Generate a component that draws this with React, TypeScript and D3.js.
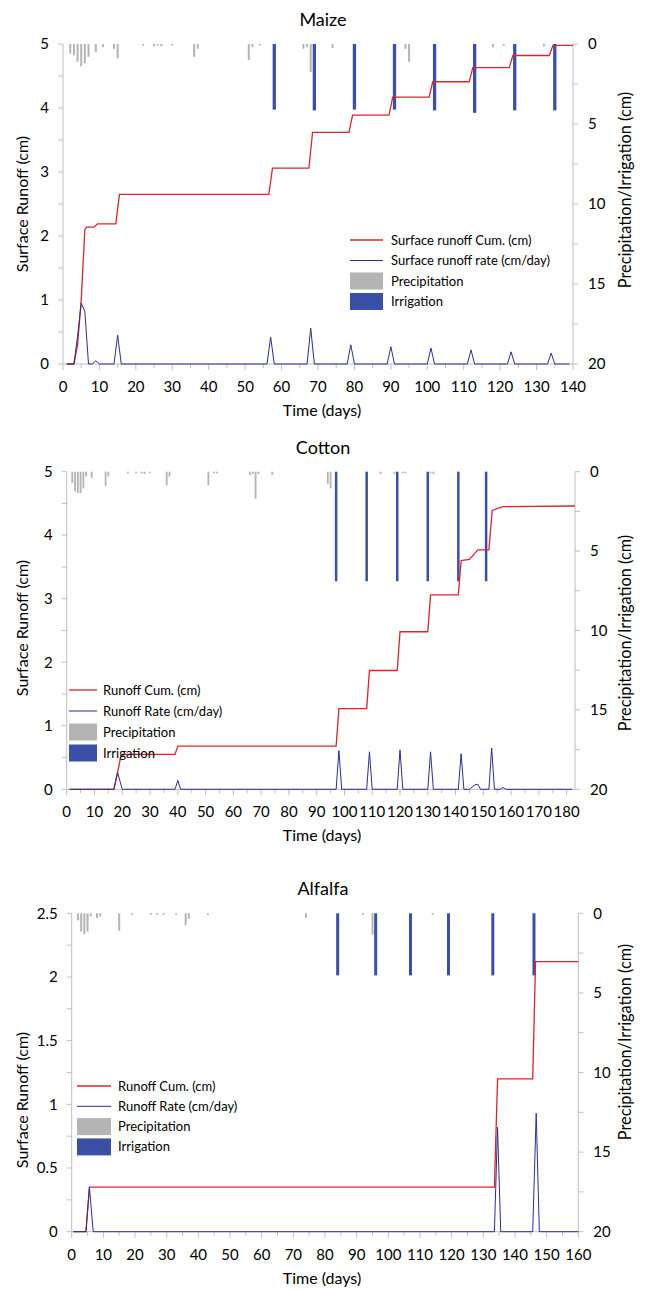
import React from 'react';
import * as d3 from 'd3';

// ---------- Maize ----------
const maizePrecip: [number, number][] = [
  [2, 0.6], [3, 0.7], [4, 1.1], [5, 1.4], [6, 1.2], [7, 0.8], [9, 0.5], [11, 0.2], [14, 0.3], [15, 0.9],
  [22, 0.1], [25, 0.15], [26, 0.1], [27, 0.15], [30, 0.1], [36, 0.8], [37, 0.3], [51, 1.0], [52, 0.2],
  [54, 0.1], [66, 0.3], [67, 0.2], [68, 1.75], [74, 0.25], [94, 0.3], [95, 1.1], [113, 0.1],
  [118, 0.2], [121, 0.1], [132, 0.15],
];
const maizeIrrigation: [number, number][] = [
  [58, 4.1], [69, 4.15], [80, 4.1], [91, 4.1], [102, 4.15], [113, 4.3], [124, 4.15], [135, 4.15],
];
const maizeRate: [number, number][] = [
  [1, 0], [3, 0], [4, 0.43], [5, 0.95], [6, 0.82], [7, 0], [8, 0], [9, 0.05], [10, 0], [14, 0],
  [15, 0.45], [16, 0], [56, 0], [57, 0.42], [58, 0], [67, 0], [68, 0.56], [69, 0], [78, 0],
  [79, 0.3], [80, 0], [89, 0], [90, 0.27], [91, 0], [100, 0], [101, 0.25], [102, 0], [111, 0],
  [112, 0.22], [113, 0], [122, 0], [123, 0.19], [124, 0], [133, 0], [134, 0.17], [135, 0], [139, 0],
];
const maizeCum: [number, number][] = [
  [1, 0], [3, 0], [4, 0.3], [5, 1.0], [6, 2.1], [6.5, 2.14], [8.5, 2.14], [9.5, 2.19], [14.5, 2.19],
  [15.5, 2.65], [56.5, 2.65], [57.5, 3.06], [67.5, 3.06], [68.5, 3.62], [78.5, 3.62], [79.5, 3.89],
  [89.5, 3.89], [90.5, 4.17], [100.5, 4.17], [101.5, 4.41], [111.5, 4.41], [112.5, 4.63],
  [122.5, 4.63], [123.5, 4.82], [133.5, 4.82], [134.5, 4.98], [140, 4.98],
];
const maizeXTicks = [0, 10, 20, 30, 40, 50, 60, 70, 80, 90, 100, 110, 120, 130, 140];
const maizeYTicks = [0, 1, 2, 3, 4, 5];

// ---------- Cotton ----------
const cottonPrecip: [number, number][] = [
  [2, 0.7], [3, 1.25], [4, 1.35], [5, 1.35], [6, 1.05], [7, 0.3], [9, 0.4], [14, 0.9], [15, 0.3],
  [22, 0.1], [25, 0.1], [27, 0.1], [28, 0.15], [30, 0.1], [36, 0.85], [37, 0.3], [51, 0.85],
  [53, 0.1], [54, 0.1], [66, 0.2], [67, 0.15], [68, 1.7], [69, 0.15], [74, 0.2], [94, 0.75],
  [95, 1.05], [113, 0.15], [118, 0.15], [121, 0.1], [122, 0.1], [131, 0.1], [132, 0.15],
];
const cottonIrrigation: [number, number][] = [
  [97, 6.9], [108, 6.9], [119, 6.9], [130, 6.9], [141, 6.9], [151, 6.9],
];
const cottonRate: [number, number][] = [
  [1, 0], [17, 0], [18.3, 0.27], [20, 0], [39, 0], [40, 0.14], [41, 0], [97, 0], [98, 0.61], [99, 0],
  [108, 0], [109, 0.59], [110, 0], [119, 0], [120, 0.62], [121, 0], [130, 0], [131, 0.59], [132, 0],
  [141, 0], [142, 0.56], [143, 0], [145, 0], [147, 0.07], [148, 0.08], [149, 0], [152, 0],
  [153, 0.65], [154, 0], [156, 0], [157, 0.03], [158, 0], [182, 0],
];
const cottonCum: [number, number][] = [
  [1, 0], [17, 0], [18, 0.2], [19.5, 0.52], [21, 0.55], [39, 0.55], [40, 0.68], [97, 0.68],
  [98, 1.27], [108, 1.27], [109, 1.87], [119, 1.87], [120, 2.48], [130, 2.48], [131, 3.06],
  [141, 3.06], [142, 3.6], [145, 3.62], [148, 3.77], [152, 3.77], [153.2, 4.39], [157, 4.45],
  [183, 4.46],
];
const cottonXTicks = [0, 10, 20, 30, 40, 50, 60, 70, 80, 90, 100, 110, 120, 130, 140, 150, 160, 170, 180];
const cottonYTicks = [0, 1, 2, 3, 4, 5];

// ---------- Alfalfa ----------
const alfalfaPrecip: [number, number][] = [
  [2, 0.45], [3, 1.15], [4, 1.3], [5, 1.15], [6, 0.2], [8, 0.3], [9, 0.2], [15, 1.1], [19, 0.1],
  [25, 0.1], [27, 0.1], [29, 0.1], [33, 0.1], [36, 0.75], [37, 0.35], [43, 0.1], [74, 0.28],
  [92, 0.1], [95, 1.35], [114, 0.1], [133, 0.1],
];
const alfalfaIrrigation: [number, number][] = [
  [84, 3.9], [96, 3.9], [107, 3.9], [119, 3.9], [133, 3.9], [146, 3.9],
];
const alfalfaRate: [number, number][] = [
  [0.5, 0], [4.5, 0], [5.6, 0.35], [6.8, 0], [133.5, 0], [134.5, 0.82], [135.5, 0],
  [145.6, 0], [146.7, 0.93], [147.7, 0], [160, 0],
];
const alfalfaCum: [number, number][] = [
  [0.5, 0], [4.5, 0], [5.6, 0.35], [133.5, 0.35], [134.5, 1.2], [145.6, 1.2], [146.5, 2.12], [160, 2.12],
];
const alfalfaXTicks = [0, 10, 20, 30, 40, 50, 60, 70, 80, 90, 100, 110, 120, 130, 140, 150, 160];
const alfalfaYTicks = [0, 0.5, 1, 1.5, 2, 2.5];

const rightTicks = [0, 5, 10, 15, 20];

const FONT = 'Lato, "Open Sans", sans-serif';
const AXIS = '#bfbfbf';
const RED = '#d9262b';
const NAVY = '#2b2f8f';
const IRR = '#3a50a6';
const GRAY = '#b4b4b4';

type Cfg = {
  title: string;
  left: number; right: number; top: number; bottom: number;
  xMax: number; yMax: number; yMinor: number;
  xTicks: number[]; yTicks: number[];
  precip: [number, number][]; irrigation: [number, number][];
  rate: [number, number][]; cum: [number, number][];
  precipW: number; irrW: number;
  leftTitleY: number; rightTitleY: number;
  legend: { x1: number; x2: number; tx: number; y: number; step: number; labels: string[] };
};

function Panel({ c }: { c: Cfg }) {
  const x = d3.scaleLinear().domain([0, c.xMax]).range([c.left, c.right]);
  const y = d3.scaleLinear().domain([0, c.yMax]).range([c.bottom, c.top]);
  const y2 = d3.scaleLinear().domain([0, 20]).range([c.top, c.bottom]);
  const line = d3.line<[number, number]>().x(d => x(d[0])).y(d => y(d[1]));
  const xMinor = d3.range(0, c.xMax + 0.001, 5);
  const yMinor = d3.range(0, c.yMax + 0.001, c.yMinor);
  const y2Minor = d3.range(0, 20.001, 2.5);
  const lg = c.legend;
  return (
    <g fontFamily={FONT}>
      <text x={323} y={c.top - 18} textAnchor="middle" fontSize={18}>{c.title}</text>
      {/* precipitation & irrigation hang from the top */}
      {c.precip.map((d, i) => (
        <rect key={'p' + i} x={x(d[0]) - c.precipW / 2} y={y2(0)} width={c.precipW}
          height={y2(d[1]) - y2(0)} fill={GRAY} />
      ))}
      {c.irrigation.map((d, i) => (
        <rect key={'i' + i} x={x(d[0]) - c.irrW / 2} y={y2(0)} width={c.irrW}
          height={y2(d[1]) - y2(0)} fill={IRR} />
      ))}
      {/* axes */}
      <line x1={c.left} x2={c.left} y1={c.top} y2={c.bottom} stroke={AXIS} />
      <line x1={c.right} x2={c.right} y1={c.top} y2={c.bottom} stroke={AXIS} />
      <line x1={c.left} x2={c.right} y1={c.bottom} y2={c.bottom} stroke={AXIS} />
      {yMinor.map(v => (
        <line key={'ym' + v} x1={c.left - 5} x2={c.left} y1={y(v)} y2={y(v)} stroke={AXIS} />
      ))}
      {y2Minor.map(v => (
        <line key={'y2m' + v} x1={c.right} x2={c.right + 5} y1={y2(v)} y2={y2(v)} stroke={AXIS} />
      ))}
      {xMinor.map(v => (
        <line key={'xm' + v} x1={x(v)} x2={x(v)} y1={c.bottom} y2={c.bottom + (v % 10 === 0 ? 6 : 4)} stroke={AXIS} />
      ))}
      {c.yTicks.map(v => (
        <text key={'yt' + v} x={c.left - 14} y={y(v)} dy="0.35em" textAnchor="end" fontSize={15}>{v}</text>
      ))}
      {rightTicks.map(v => (
        <text key={'rt' + v} x={c.right + 15} y={y2(v)} dy="0.35em" fontSize={15}>{v}</text>
      ))}
      {c.xTicks.map(v => (
        <text key={'xt' + v} x={x(v)} y={c.bottom + 28} textAnchor="middle" fontSize={15}>{v}</text>
      ))}
      <text x={322} y={c.bottom + 52} textAnchor="middle" fontSize={16}>Time (days)</text>
      <text transform={`translate(28,${c.leftTitleY}) rotate(-90)`} textAnchor="middle" fontSize={16}>Surface Runoff (cm)</text>
      <text transform={`translate(631,${c.rightTitleY}) rotate(-90)`} textAnchor="middle" fontSize={16.3}>Precipitation/Irrigation (cm)</text>
      {/* series */}
      <path d={line(c.cum) || ''} fill="none" stroke={RED} strokeWidth={1.3} />
      <path d={line(c.rate) || ''} fill="none" stroke={NAVY} strokeWidth={1} />
      {/* legend */}
      <g fontSize={13}>
        <line x1={lg.x1} x2={lg.x2} y1={lg.y} y2={lg.y} stroke={RED} strokeWidth={1.3} />
        <text x={lg.tx} y={lg.y} dy="0.35em">{lg.labels[0]}</text>
        <line x1={lg.x1} x2={lg.x2} y1={lg.y + lg.step} y2={lg.y + lg.step} stroke={NAVY} />
        <text x={lg.tx} y={lg.y + lg.step} dy="0.35em">{lg.labels[1]}</text>
        <rect x={lg.x1} y={lg.y + 2 * lg.step - 8.5} width={lg.x2 - lg.x1} height={17} fill={GRAY} />
        <text x={lg.tx} y={lg.y + 2 * lg.step} dy="0.35em">{lg.labels[2]}</text>
        <rect x={lg.x1} y={lg.y + 3 * lg.step - 8.5} width={lg.x2 - lg.x1} height={17} fill={IRR} />
        <text x={lg.tx} y={lg.y + 3 * lg.step} dy="0.35em">{lg.labels[3]}</text>
      </g>
    </g>
  );
}

const shortLabels = ['Runoff Cum. (cm)', 'Runoff Rate (cm/day)', 'Precipitation', 'Irrigation'];

const panels: Cfg[] = [
  {
    title: 'Maize', left: 63, right: 573, top: 44, bottom: 364, xMax: 140, yMax: 5, yMinor: 0.5,
    xTicks: maizeXTicks, yTicks: maizeYTicks, precip: maizePrecip, irrigation: maizeIrrigation,
    rate: maizeRate, cum: maizeCum, precipW: 2, irrW: 3.3, leftTitleY: 204, rightTitleY: 190,
    legend: { x1: 350, x2: 383, tx: 391, y: 240, step: 20.5,
      labels: ['Surface runoff Cum. (cm)', 'Surface runoff rate (cm/day)', 'Precipitation', 'Irrigation'] },
  },
  {
    title: 'Cotton', left: 66.7, right: 575, top: 471.7, bottom: 789.3, xMax: 183, yMax: 5, yMinor: 0.5,
    xTicks: cottonXTicks, yTicks: cottonYTicks, precip: cottonPrecip, irrigation: cottonIrrigation,
    rate: cottonRate, cum: cottonCum, precipW: 1.8, irrW: 2.5, leftTitleY: 628, rightTitleY: 633,
    legend: { x1: 69, x2: 97, tx: 103, y: 690, step: 21, labels: shortLabels },
  },
  {
    title: 'Alfalfa', left: 71.7, right: 578.3, top: 913.3, bottom: 1231.7, xMax: 160, yMax: 2.5, yMinor: 0.25,
    xTicks: alfalfaXTicks, yTicks: alfalfaYTicks, precip: alfalfaPrecip, irrigation: alfalfaIrrigation,
    rate: alfalfaRate, cum: alfalfaCum, precipW: 2, irrW: 3, leftTitleY: 1100, rightTitleY: 1042,
    legend: { x1: 77, x2: 111, tx: 118, y: 1086, step: 20.3, labels: shortLabels },
  },
];

export default function App() {
  return (
    <svg width={649} height={1291} style={{ position: 'absolute', left: 0, top: 0, display: 'block', background: '#fff' }}>
      {panels.map(p => <Panel key={p.title} c={p} />)}
    </svg>
  );
}
